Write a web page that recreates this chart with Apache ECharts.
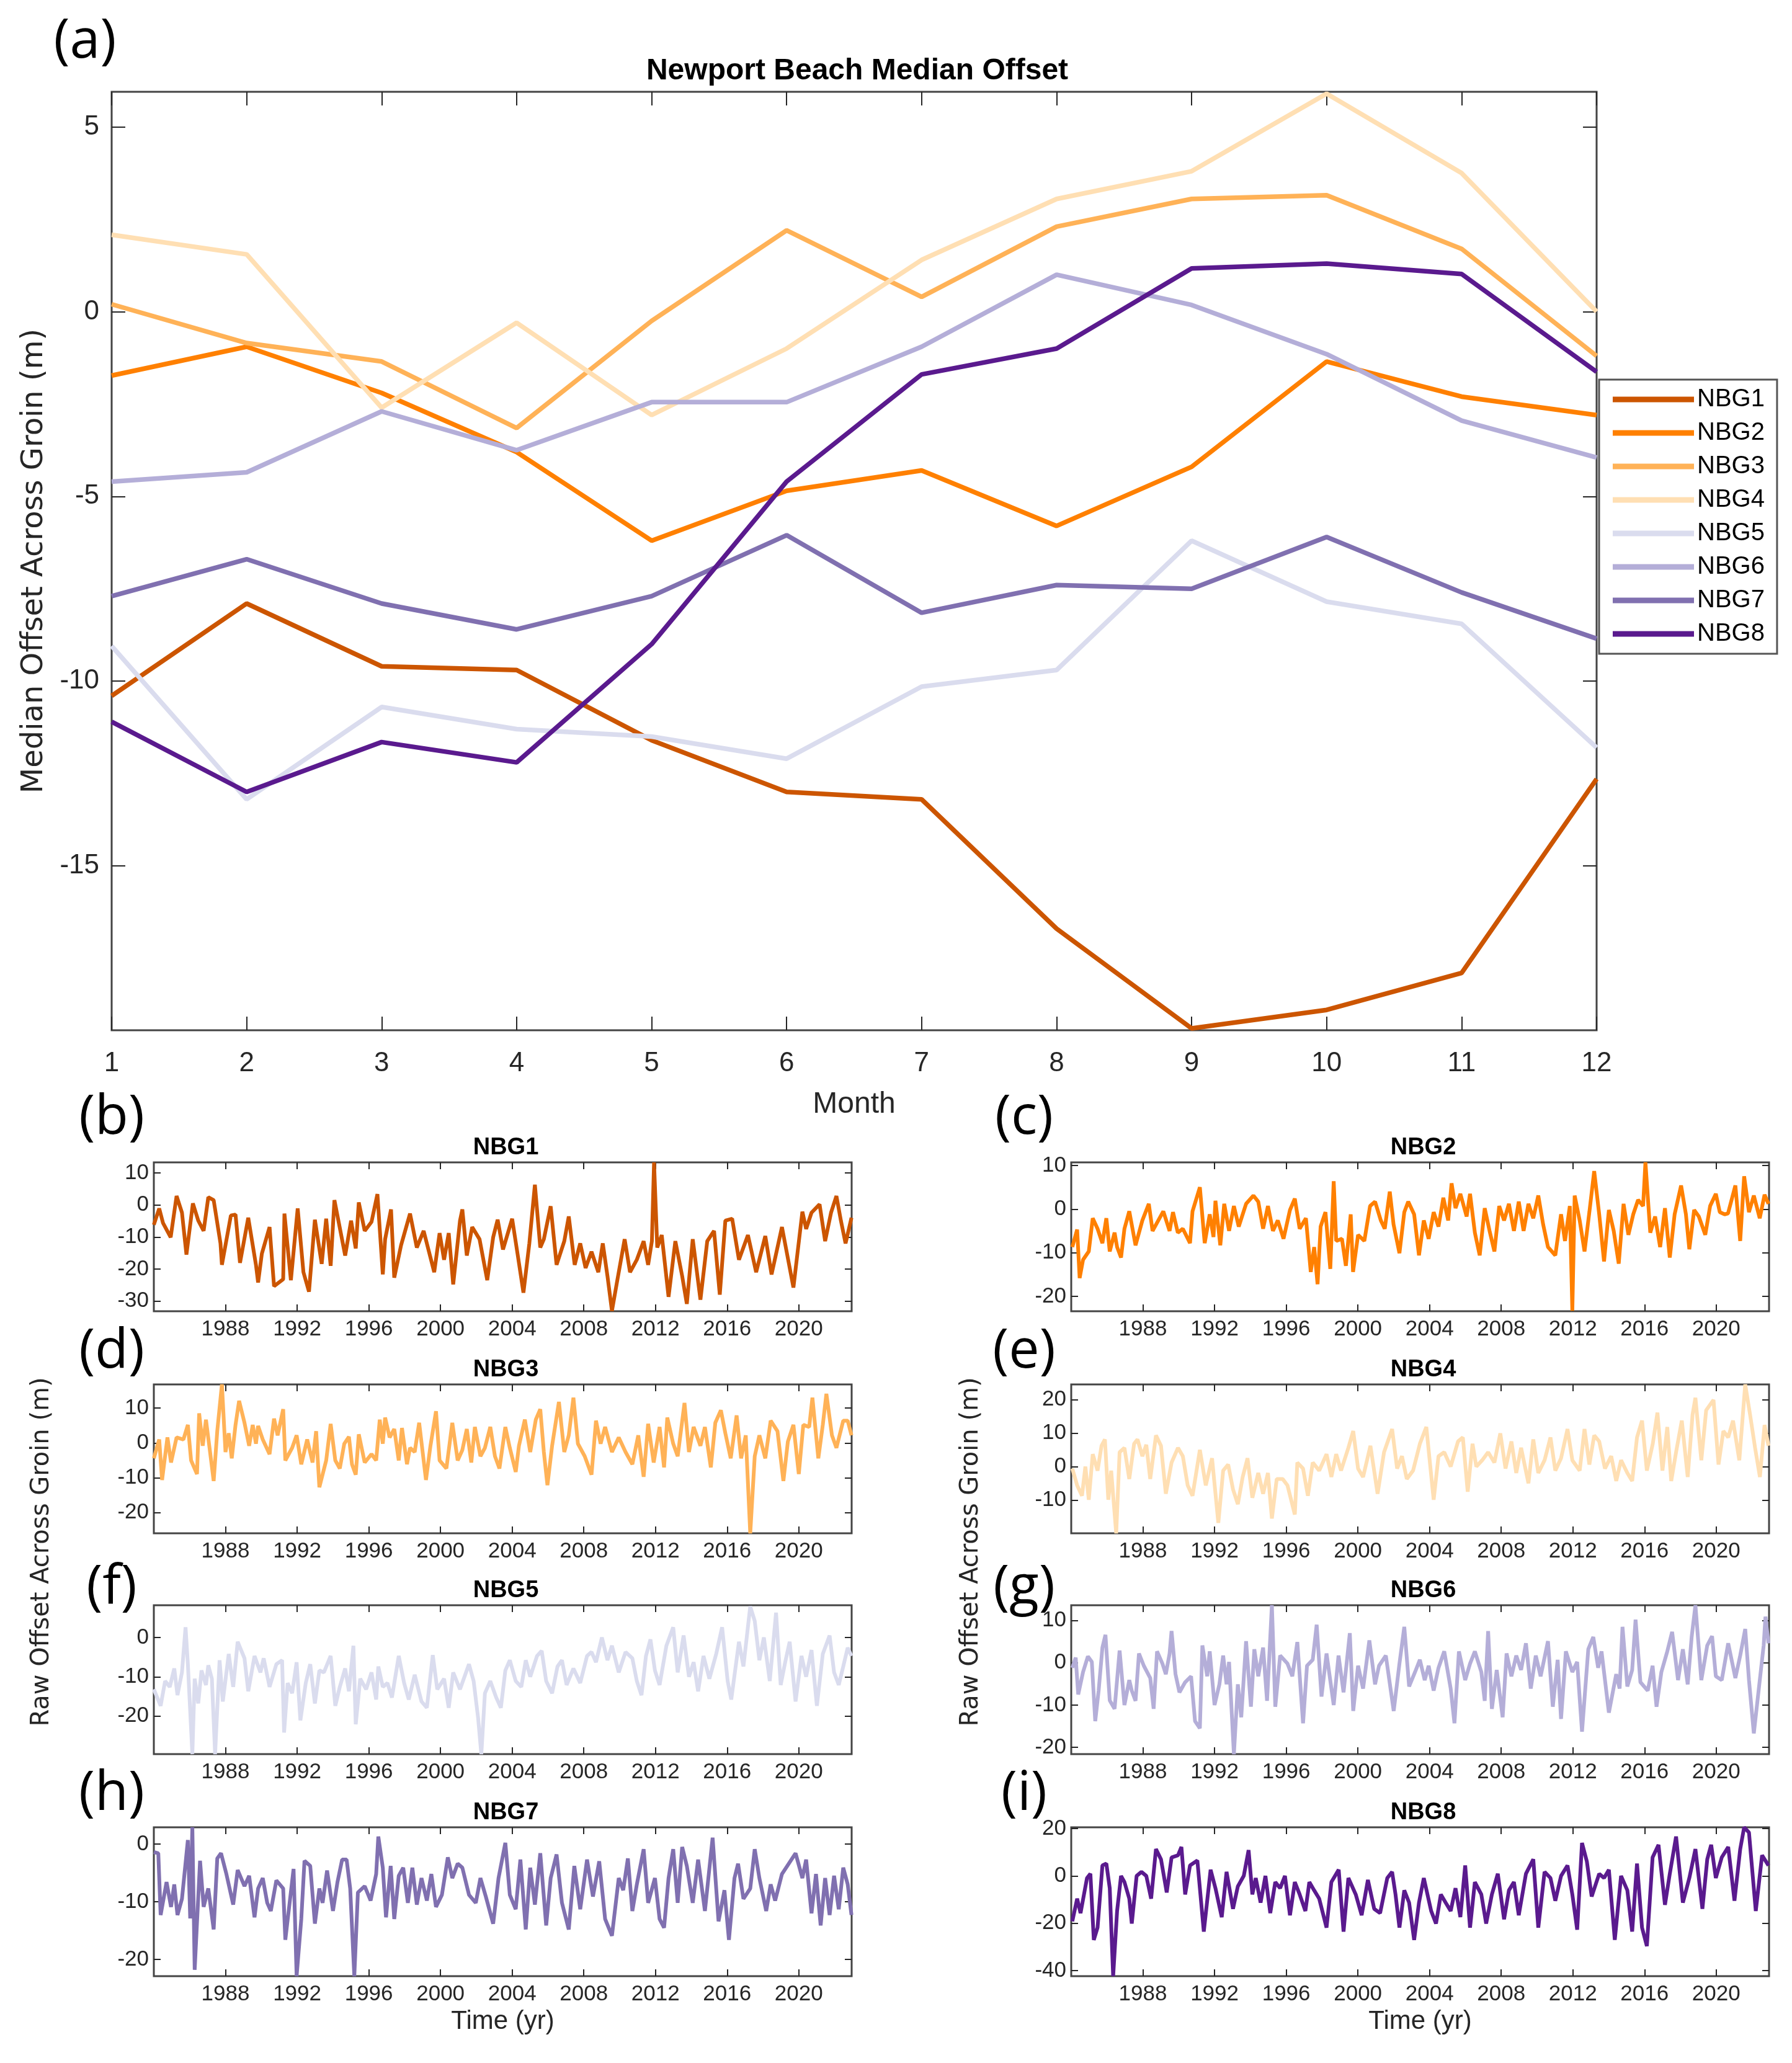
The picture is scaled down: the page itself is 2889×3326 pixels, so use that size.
<!DOCTYPE html>
<html>
<head>
<meta charset="utf-8">
<title>Newport Beach Median Offset</title>
<script src="https://cdn.jsdelivr.net/npm/echarts@6/dist/echarts.min.js"></script>
<style>
html, body { margin: 0; padding: 0; background: #fff; }
#chart { width: 2889px; height: 3326px; }
</style>
</head>
<body>
<div id="chart"></div>
<script>
// ---- data ----
var months = [1, 2, 3, 4, 5, 6, 7, 8, 9, 10, 11, 12];
var groinNames = ['NBG1', 'NBG2', 'NBG3', 'NBG4', 'NBG5', 'NBG6', 'NBG7', 'NBG8'];

// median offset across groin per month (m)
var medNBG1 = [-10.4, -7.9, -9.6, -9.7, -11.6, -13.0, -13.2, -16.7, -19.4, -18.9, -17.9, -12.65];
var medNBG2 = [-1.73, -0.95, -2.2, -3.8, -6.2, -4.85, -4.3, -5.8, -4.2, -1.35, -2.3, -2.8];
var medNBG3 = [0.2, -0.85, -1.35, -3.15, -0.25, 2.2, 0.4, 2.3, 3.05, 3.15, 1.7, -1.2];
var medNBG4 = [2.08, 1.55, -2.6, -0.3, -2.8, -1.0, 1.4, 3.05, 3.8, 5.9, 3.75, 0.0];
var medNBG5 = [-9.05, -13.2, -10.7, -11.3, -11.5, -12.1, -10.15, -9.7, -6.2, -7.85, -8.45, -11.8];
var medNBG6 = [-4.6, -4.35, -2.7, -3.75, -2.45, -2.45, -0.95, 1.0, 0.18, -1.15, -2.95, -3.95];
var medNBG7 = [-7.7, -6.7, -7.9, -8.6, -7.7, -6.05, -8.15, -7.4, -7.5, -6.1, -7.6, -8.85];
var medNBG8 = [-11.1, -13.0, -11.65, -12.2, -9.0, -4.6, -1.7, -1.0, 1.17, 1.3, 1.02, -1.63];

// raw offset time series [decimal year, offset (m)]
var rawNBG1 = [[1984.00,-6.2],[1984.30,-1.1],[1984.51,-5.6],[1984.94,-10.1],[1985.27,2.8],[1985.57,-2.4],[1985.82,-15.5],[1986.18,0.5],[1986.48,-4.9],[1986.78,-8.1],[1987.04,2.4],[1987.34,1.5],[1987.72,-12.0],[1987.80,-18.7],[1988.30,-3.3],[1988.56,-3.0],[1988.81,-18.1],[1989.27,-4.0],[1989.70,-18.7],[1989.82,-24.2],[1990.03,-15.2],[1990.46,-6.9],[1990.71,-25.4],[1991.22,-23.2],[1991.29,-2.7],[1991.65,-23.5],[1992.03,-1.1],[1992.35,-21.0],[1992.66,-27.1],[1992.99,-4.6],[1993.37,-18.4],[1993.62,-4.3],[1993.87,-19.0],[1994.08,1.5],[1994.68,-15.8],[1995.01,-4.9],[1995.27,-13.6],[1995.44,0.8],[1995.77,-8.1],[1996.15,-5.3],[1996.48,3.4],[1996.78,-21.7],[1996.91,-10.7],[1997.24,-1.4],[1997.42,-22.7],[1997.80,-12.6],[1998.30,-2.7],[1998.68,-13.3],[1999.06,-8.1],[1999.65,-21.0],[1999.95,-8.8],[2000.20,-17.1],[2000.46,-8.8],[2000.71,-24.8],[2001.09,-4.9],[2001.22,-1.4],[2001.47,-15.8],[2001.77,-6.9],[2002.18,-10.7],[2002.61,-23.5],[2002.94,-10.1],[2003.19,-4.6],[2003.49,-13.9],[2004.00,-4.3],[2004.30,-15.2],[2004.63,-27.4],[2004.96,-12.0],[2005.27,6.3],[2005.57,-13.3],[2005.77,-10.7],[2006.15,-0.4],[2006.48,-18.7],[2006.91,-11.3],[2007.16,-3.6],[2007.49,-18.7],[2007.80,-12.0],[2008.10,-19.7],[2008.43,-14.6],[2008.81,-21.0],[2009.06,-12.0],[2009.32,-22.2],[2009.57,-33.1],[2009.87,-23.5],[2010.28,-10.7],[2010.58,-21.0],[2010.96,-17.1],[2011.34,-11.3],[2011.59,-18.7],[2011.80,-11.3],[2011.92,13.3],[2012.10,-13.3],[2012.35,-9.4],[2012.73,-28.7],[2013.11,-11.3],[2013.49,-22.2],[2013.75,-30.9],[2014.08,-10.7],[2014.51,-29.6],[2014.89,-11.3],[2015.27,-8.1],[2015.59,-28.0],[2015.90,-4.9],[2016.28,-4.3],[2016.66,-17.1],[2017.16,-9.4],[2017.62,-21.0],[2018.13,-9.7],[2018.48,-21.7],[2019.06,-6.9],[2019.70,-25.8],[2020.20,-2.1],[2020.41,-7.5],[2020.71,-2.4],[2021.16,0.2],[2021.47,-11.3],[2021.80,-2.4],[2022.10,2.8],[2022.35,-4.9],[2022.61,-12.0],[2022.94,-4.0]];
var rawNBG2 = [[1984.06,-8.7],[1984.33,-4.7],[1984.47,-15.8],[1984.66,-11.6],[1984.98,-9.7],[1985.20,-2.1],[1985.47,-4.5],[1985.74,-7.8],[1985.96,-2.1],[1986.15,-9.7],[1986.42,-5.4],[1986.56,-8.7],[1986.78,-11.1],[1986.97,-4.5],[1987.24,-0.5],[1987.59,-8.3],[1987.97,-2.6],[1988.33,1.2],[1988.54,-5.0],[1989.14,-0.5],[1989.49,-5.0],[1989.68,-0.7],[1989.95,-5.4],[1990.23,-4.5],[1990.63,-7.8],[1990.77,-0.5],[1991.18,5.0],[1991.45,-7.8],[1991.73,-1.2],[1991.94,-6.4],[1992.05,1.9],[1992.32,-8.3],[1992.54,1.2],[1992.81,-5.0],[1993.08,0.7],[1993.35,-4.0],[1993.76,1.2],[1994.17,3.1],[1994.44,1.7],[1994.71,-4.5],[1994.98,0.7],[1995.26,-5.0],[1995.53,-2.6],[1995.85,-6.8],[1996.21,-0.2],[1996.48,2.4],[1996.75,-4.5],[1997.10,-2.1],[1997.37,-14.4],[1997.56,-8.7],[1997.75,-17.2],[1997.92,-4.0],[1998.19,-0.7],[1998.46,-13.7],[1998.65,6.4],[1998.79,-7.3],[1999.11,-6.8],[1999.33,-13.0],[1999.60,-1.2],[1999.73,-14.4],[2000.01,-5.9],[2000.36,-7.3],[2000.68,0.7],[2000.96,1.7],[2001.28,-2.6],[2001.50,-4.5],[2001.78,4.0],[2001.99,-3.5],[2002.32,-10.1],[2002.59,-0.7],[2002.81,1.7],[2003.14,-1.2],[2003.41,-10.6],[2003.68,-2.6],[2003.95,-6.8],[2004.23,-0.7],[2004.50,-4.0],[2004.77,2.6],[2005.04,-2.6],[2005.23,5.9],[2005.45,0.2],[2005.72,3.5],[2006.07,-1.7],[2006.26,3.5],[2006.53,-5.4],[2006.80,-10.6],[2007.08,0.2],[2007.35,-5.0],[2007.62,-9.7],[2007.89,0.7],[2008.16,-2.6],[2008.43,1.2],[2008.71,-5.0],[2008.98,1.7],[2009.25,-5.0],[2009.52,1.2],[2009.79,-2.1],[2010.07,3.1],[2010.34,-3.5],[2010.61,-8.7],[2011.02,-10.6],[2011.34,-1.2],[2011.56,-7.3],[2011.83,0.7],[2011.97,-23.3],[2012.10,3.1],[2012.38,-2.6],[2012.65,-9.7],[2012.92,-0.7],[2013.19,8.7],[2013.47,-1.2],[2013.74,-12.0],[2014.01,-0.2],[2014.28,-5.0],[2014.56,-12.5],[2014.83,1.2],[2015.10,-5.9],[2015.37,-1.2],[2015.64,2.1],[2015.92,0.7],[2016.05,10.7],[2016.32,-5.4],[2016.59,-1.7],[2016.87,-8.7],[2017.14,0.2],[2017.41,-11.1],[2017.68,-1.2],[2018.04,5.4],[2018.31,-1.2],[2018.50,-9.2],[2018.77,-0.2],[2019.03,-1.7],[2019.39,-5.9],[2019.66,0.7],[2019.98,3.5],[2020.20,-0.7],[2020.47,-1.2],[2020.66,-1.0],[2021.07,5.4],[2021.34,-7.3],[2021.56,7.5],[2021.83,-0.7],[2022.10,3.1],[2022.43,-2.1],[2022.70,3.3],[2022.92,1.2]];
var rawNBG3 = [[1984.00,-4.4],[1984.30,1.0],[1984.46,-10.6],[1984.76,1.6],[1984.96,-5.6],[1985.27,1.6],[1985.65,1.0],[1985.90,5.2],[1986.08,-5.0],[1986.41,-8.9],[1986.53,8.5],[1986.73,-0.8],[1986.91,6.7],[1987.11,-1.4],[1987.34,-10.9],[1987.54,3.4],[1987.80,16.8],[1988.00,-2.6],[1988.18,2.8],[1988.35,-4.4],[1988.56,5.2],[1988.76,12.1],[1989.06,5.8],[1989.32,-0.8],[1989.52,5.2],[1989.70,-0.2],[1989.82,4.9],[1990.08,1.0],[1990.46,-3.2],[1990.71,7.0],[1990.91,2.2],[1991.22,9.7],[1991.34,-5.0],[1991.72,-1.4],[1991.97,2.2],[1992.23,-6.1],[1992.56,1.0],[1992.86,-5.6],[1993.06,3.4],[1993.24,-12.7],[1993.62,-5.0],[1993.87,5.5],[1994.13,-5.0],[1994.38,-7.3],[1994.63,-0.2],[1994.89,1.8],[1995.06,-6.1],[1995.27,-9.1],[1995.44,2.5],[1995.77,-5.6],[1996.15,-3.2],[1996.41,-5.0],[1996.61,6.7],[1996.78,-0.2],[1996.91,7.3],[1997.16,1.6],[1997.42,4.0],[1997.67,-5.0],[1997.85,4.3],[1998.13,-6.1],[1998.30,-1.4],[1998.56,-2.6],[1998.81,5.8],[1999.19,-10.6],[1999.44,-0.8],[1999.75,9.1],[1999.95,-5.0],[2000.33,-7.3],[2000.66,5.8],[2000.96,-5.0],[2001.22,-2.0],[2001.47,4.0],[2001.72,-5.6],[2001.92,4.6],[2002.23,-3.8],[2002.48,-1.4],[2002.78,4.6],[2003.04,-3.8],[2003.29,-7.3],[2003.62,4.6],[2003.87,-1.4],[2004.20,-8.3],[2004.38,-0.8],[2004.71,6.7],[2005.01,-2.6],[2005.32,6.7],[2005.57,9.7],[2005.77,-2.6],[2005.97,-12.1],[2006.23,-0.8],[2006.61,11.8],[2006.91,-2.6],[2007.16,2.2],[2007.42,13.0],[2007.67,-0.2],[2008.05,-3.8],[2008.43,-9.1],[2008.68,6.4],[2008.94,-0.2],[2009.19,4.6],[2009.57,-2.6],[2009.95,1.6],[2010.33,-2.6],[2010.71,-6.1],[2011.04,2.2],[2011.34,-9.7],[2011.59,5.5],[2011.90,-5.6],[2012.23,4.6],[2012.48,-7.0],[2012.66,7.3],[2012.99,-0.2],[2013.24,-3.8],[2013.62,11.5],[2013.87,-2.6],[2014.13,4.6],[2014.51,-0.8],[2014.76,4.6],[2015.09,-7.0],[2015.34,5.8],[2015.65,9.4],[2015.90,2.8],[2016.20,-4.4],[2016.53,7.9],[2016.78,-4.4],[2017.04,2.2],[2017.29,-25.9],[2017.54,-3.8],[2017.80,2.2],[2018.13,-4.4],[2018.43,6.4],[2018.81,3.4],[2019.14,-10.9],[2019.39,0.4],[2019.70,5.2],[2020.00,-8.9],[2020.25,5.2],[2020.58,4.6],[2020.76,13.0],[2021.09,-4.4],[2021.34,5.2],[2021.54,14.1],[2021.85,2.2],[2022.10,-1.4],[2022.48,6.4],[2022.73,6.4],[2022.94,2.2]];
var rawNBG4 = [[1984.06,-0.6],[1984.33,-5.6],[1984.60,-8.7],[1984.79,0.0],[1984.98,-9.9],[1985.20,3.7],[1985.47,-1.2],[1985.69,6.2],[1985.88,8.1],[1986.07,-9.9],[1986.23,-1.2],[1986.51,-19.9],[1986.70,4.3],[1986.97,5.6],[1987.24,-3.7],[1987.51,6.8],[1987.70,8.1],[1987.97,3.1],[1988.19,6.5],[1988.41,-3.7],[1988.73,9.3],[1989.01,6.2],[1989.28,-8.1],[1989.60,1.2],[1989.96,5.6],[1990.23,3.1],[1990.50,-5.6],[1990.77,-8.7],[1991.18,5.0],[1991.51,-5.6],[1991.86,2.5],[1992.21,-16.8],[1992.48,-1.2],[1992.76,0.6],[1993.03,-6.8],[1993.30,-11.2],[1993.57,-3.1],[1993.84,2.5],[1994.11,-9.3],[1994.44,-1.9],[1994.71,-8.1],[1994.98,-1.9],[1995.20,-15.5],[1995.47,-3.7],[1995.80,-3.7],[1996.07,-5.6],[1996.48,-14.3],[1996.62,1.2],[1996.94,-0.6],[1997.21,-8.7],[1997.48,1.2],[1997.84,-1.2],[1998.25,3.7],[1998.52,-3.1],[1998.79,3.7],[1999.06,-1.2],[1999.47,5.6],[1999.74,10.6],[2000.01,-0.6],[2000.29,-3.1],[2000.70,6.2],[2001.10,-8.1],[2001.46,4.3],[2001.91,11.2],[2002.19,-0.6],[2002.46,3.1],[2002.73,-3.7],[2003.08,-1.2],[2003.46,6.8],[2003.82,11.8],[2004.23,-9.9],[2004.50,3.1],[2004.82,4.3],[2005.18,0.0],[2005.59,7.5],[2005.86,8.7],[2006.13,-7.5],[2006.40,6.8],[2006.61,0.0],[2006.94,1.9],[2007.27,4.3],[2007.62,1.2],[2007.95,9.9],[2008.24,-0.6],[2008.57,7.5],[2008.84,-1.9],[2009.11,5.6],[2009.52,-5.0],[2009.79,8.1],[2010.07,-1.9],[2010.42,1.9],[2010.75,8.7],[2011.02,-1.2],[2011.34,2.5],[2011.70,11.2],[2011.97,1.9],[2012.38,-1.2],[2012.65,11.2],[2012.92,0.6],[2013.19,9.3],[2013.47,7.5],[2013.79,-0.6],[2014.14,3.1],[2014.42,-4.3],[2014.69,1.9],[2015.04,-1.9],[2015.31,-4.3],[2015.58,8.7],[2015.86,13.7],[2016.13,-1.2],[2016.46,6.8],[2016.72,16.1],[2017.00,-1.2],[2017.27,11.8],[2017.49,-4.3],[2017.76,4.3],[2018.08,13.7],[2018.41,-3.1],[2018.68,15.5],[2018.84,20.5],[2019.17,1.9],[2019.44,16.8],[2019.85,19.9],[2020.13,0.6],[2020.40,10.6],[2020.67,8.7],[2020.94,13.7],[2021.29,1.9],[2021.62,24.5],[2021.89,15.5],[2022.17,5.6],[2022.44,-3.1],[2022.70,12.4],[2022.92,6.2]];
var rawNBG5 = [[1984.00,-13.2],[1984.38,-17.4],[1984.63,-11.1],[1984.89,-12.6],[1985.14,-7.9],[1985.32,-14.7],[1985.57,-8.9],[1985.77,2.6],[1985.90,-6.8],[1986.15,-29.7],[1986.28,-10.5],[1986.48,-16.8],[1986.66,-8.4],[1986.91,-12.1],[1987.04,-7.1],[1987.24,-10.5],[1987.42,-29.7],[1987.67,-5.8],[1987.85,-16.3],[1988.18,-4.2],[1988.43,-12.6],[1988.68,-1.1],[1989.06,-5.3],[1989.27,-13.7],[1989.62,-4.7],[1989.95,-8.9],[1990.13,-5.3],[1990.46,-12.6],[1990.84,-6.8],[1991.16,-5.8],[1991.27,-24.2],[1991.47,-11.6],[1991.72,-14.2],[1991.97,-6.3],[1992.18,-21.1],[1992.48,-11.6],[1992.73,-6.8],[1992.99,-16.8],[1993.24,-8.4],[1993.49,-8.9],[1993.87,-4.7],[1994.13,-17.4],[1994.38,-12.6],[1994.68,-7.9],[1994.89,-13.7],[1995.14,-2.1],[1995.27,-22.1],[1995.52,-10.5],[1995.85,-13.2],[1996.15,-8.9],[1996.41,-15.8],[1996.53,-7.4],[1996.78,-12.6],[1997.04,-11.6],[1997.29,-15.3],[1997.67,-4.7],[1997.97,-11.6],[1998.23,-15.8],[1998.56,-9.5],[1998.94,-16.3],[1999.24,-17.9],[1999.57,-4.5],[1999.82,-13.2],[2000.20,-10.5],[2000.46,-17.9],[2000.71,-8.9],[2001.09,-13.2],[2001.59,-6.8],[2001.85,-11.1],[2002.10,-20.5],[2002.28,-29.7],[2002.48,-14.2],[2002.78,-11.1],[2003.11,-15.3],[2003.37,-17.9],[2003.62,-8.4],[2003.87,-5.8],[2004.20,-11.1],[2004.51,-12.6],[2004.76,-5.8],[2005.01,-10.0],[2005.39,-4.7],[2005.65,-3.4],[2005.90,-11.1],[2006.23,-14.2],[2006.53,-7.4],[2006.78,-5.8],[2007.04,-12.1],[2007.42,-7.9],[2007.80,-11.6],[2008.18,-4.7],[2008.43,-3.7],[2008.68,-6.3],[2009.01,0.0],[2009.32,-5.8],[2009.57,-2.1],[2009.95,-8.9],[2010.33,-3.7],[2010.71,-5.3],[2010.96,-11.1],[2011.22,-14.7],[2011.47,-4.7],[2011.72,-0.5],[2011.97,-8.4],[2012.23,-12.1],[2012.61,-2.1],[2012.99,2.6],[2013.24,-8.9],[2013.57,0.5],[2013.87,-10.0],[2014.13,-6.3],[2014.38,-13.7],[2014.68,-4.7],[2015.01,-10.5],[2015.39,-4.2],[2015.72,2.6],[2016.03,-11.1],[2016.23,-15.8],[2016.66,-1.1],[2016.91,-7.4],[2017.29,7.9],[2017.54,4.2],[2017.80,-5.8],[2018.05,0.0],[2018.38,-11.1],[2018.73,6.3],[2018.99,-12.1],[2019.24,-6.3],[2019.49,-1.1],[2019.82,-16.3],[2020.15,-4.7],[2020.41,-10.0],[2020.71,-3.2],[2021.01,-17.4],[2021.34,-4.2],[2021.72,0.5],[2021.97,-8.9],[2022.23,-12.1],[2022.48,-7.4],[2022.73,-2.6],[2022.94,-4.7]];
var rawNBG6 = [[1984.06,-1.2],[1984.25,1.2],[1984.39,-7.5],[1984.66,-2.2],[1984.93,1.5],[1985.15,0.2],[1985.34,-13.8],[1985.53,-6.6],[1985.74,3.6],[1985.91,6.6],[1986.15,-8.9],[1986.42,-10.9],[1986.70,2.9],[1986.97,-10.0],[1987.24,-4.1],[1987.38,-6.6],[1987.59,-9.0],[1987.78,2.2],[1988.05,-0.7],[1988.41,-3.6],[1988.60,-10.9],[1988.79,2.7],[1989.09,-0.2],[1989.28,-2.7],[1989.49,2.2],[1989.60,7.5],[1989.82,-2.7],[1990.04,-7.0],[1990.36,-4.6],[1990.69,-3.2],[1990.91,-13.8],[1991.18,-15.5],[1991.32,4.1],[1991.59,-3.2],[1991.73,2.7],[1992.00,-10.0],[1992.27,-5.1],[1992.48,1.7],[1992.67,-5.1],[1992.81,0.2],[1993.08,-21.6],[1993.30,-5.1],[1993.49,-12.9],[1993.76,5.1],[1994.03,-10.4],[1994.22,3.2],[1994.44,-3.2],[1994.71,3.6],[1994.93,-9.0],[1995.20,13.6],[1995.39,-10.4],[1995.66,1.7],[1996.07,-0.2],[1996.34,-3.2],[1996.62,4.9],[1996.94,-14.3],[1997.16,-0.7],[1997.48,0.7],[1997.70,9.0],[1997.97,-8.0],[1998.25,2.2],[1998.65,-10.0],[1998.92,1.7],[1999.20,-7.0],[1999.55,7.0],[1999.74,-11.4],[2000.01,-0.7],[2000.29,-6.1],[2000.64,5.3],[2000.96,-5.1],[2001.18,-0.7],[2001.56,1.7],[2002.00,-11.4],[2002.32,-0.2],[2002.59,8.5],[2002.86,-5.6],[2003.19,-2.2],[2003.46,0.7],[2003.73,-4.1],[2003.95,-0.7],[2004.23,-6.6],[2004.50,-1.2],[2004.82,2.7],[2005.18,-6.1],[2005.39,-14.3],[2005.64,2.7],[2005.99,-4.1],[2006.26,-0.2],[2006.53,2.7],[2006.89,-2.2],[2007.08,-9.0],[2007.27,7.5],[2007.48,-10.9],[2007.75,-1.7],[2008.08,-12.9],[2008.30,2.2],[2008.57,-3.2],[2008.84,1.7],[2009.11,-1.7],[2009.38,4.6],[2009.65,-6.1],[2009.93,1.7],[2010.20,-3.2],[2010.61,5.1],[2010.88,-10.4],[2011.15,0.7],[2011.34,-13.3],[2011.61,2.7],[2011.97,-2.2],[2012.24,0.2],[2012.51,-16.3],[2012.86,3.2],[2013.14,6.1],[2013.41,-1.2],[2013.60,2.7],[2014.01,-11.8],[2014.42,-2.7],[2014.61,-6.1],[2014.77,8.5],[2015.04,-5.6],[2015.31,-1.7],[2015.50,10.2],[2015.77,-4.6],[2016.18,-6.6],[2016.45,-0.7],[2016.67,-10.4],[2016.94,-2.2],[2017.27,2.7],[2017.54,7.3],[2017.87,-4.1],[2018.14,3.2],[2018.41,-5.1],[2018.63,6.1],[2018.84,13.6],[2019.17,-4.1],[2019.50,4.1],[2019.77,6.3],[2019.98,-3.2],[2020.31,-4.1],[2020.67,4.6],[2021.07,-3.6],[2021.34,1.7],[2021.62,8.0],[2021.83,-4.1],[2022.10,-16.7],[2022.38,-6.1],[2022.65,4.1],[2022.75,10.9],[2022.92,4.6]];
var rawNBG7 = [[1984.00,-1.4],[1984.25,-1.6],[1984.38,-12.3],[1984.71,-6.6],[1984.96,-10.9],[1985.14,-7.0],[1985.32,-12.3],[1985.57,-9.5],[1985.90,0.7],[1986.03,-12.9],[1986.15,2.9],[1986.28,-21.8],[1986.58,-2.9],[1986.78,-10.9],[1987.04,-7.7],[1987.34,-14.8],[1987.54,-2.5],[1987.75,-1.6],[1988.05,-5.2],[1988.43,-10.5],[1988.68,-4.5],[1989.06,-7.3],[1989.32,-5.5],[1989.62,-12.7],[1989.82,-7.7],[1990.08,-5.9],[1990.33,-10.2],[1990.53,-11.6],[1990.84,-6.3],[1991.22,-7.7],[1991.34,-16.6],[1991.80,-4.3],[1991.97,-22.9],[1992.23,-13.0],[1992.41,-2.9],[1992.73,-3.8],[1992.99,-13.8],[1993.24,-7.7],[1993.42,-10.2],[1993.67,-4.6],[1994.00,-11.6],[1994.25,-6.6],[1994.51,-2.7],[1994.76,-2.7],[1994.96,-7.7],[1995.19,-22.9],[1995.39,-8.4],[1995.77,-7.3],[1996.10,-9.8],[1996.41,-5.2],[1996.53,1.3],[1996.78,-4.1],[1996.96,-12.7],[1997.22,-3.8],[1997.42,-13.0],[1997.67,-5.5],[1997.92,-4.1],[1998.18,-10.2],[1998.43,-4.1],[1998.68,-10.5],[1998.94,-5.9],[1999.24,-9.8],[1999.49,-5.2],[1999.75,-10.9],[2000.08,-8.8],[2000.41,-2.3],[2000.66,-5.9],[2000.96,-3.4],[2001.22,-4.1],[2001.59,-8.8],[2001.97,-10.2],[2002.23,-5.9],[2002.53,-9.1],[2002.94,-13.8],[2003.24,-5.9],[2003.62,0.2],[2003.87,-8.8],[2004.20,-11.3],[2004.46,-2.7],[2004.76,-14.8],[2005.01,-4.1],[2005.27,-10.5],[2005.57,-1.6],[2005.90,-14.1],[2006.15,-5.9],[2006.48,-1.8],[2006.78,-10.2],[2007.16,-14.8],[2007.47,-3.8],[2007.80,-11.3],[2008.18,-2.7],[2008.51,-9.1],[2008.86,-3.0],[2009.19,-13.0],[2009.57,-15.9],[2009.95,-5.9],[2010.20,-8.0],[2010.46,-2.5],[2010.71,-11.6],[2010.96,-7.0],[2011.34,-0.9],[2011.59,-10.2],[2011.97,-5.9],[2012.23,-13.0],[2012.48,-14.5],[2012.73,-5.9],[2012.99,-0.9],[2013.24,-10.2],[2013.49,-0.5],[2013.75,-3.8],[2014.08,-10.2],[2014.38,-2.7],[2014.76,-11.6],[2015.19,1.1],[2015.52,-13.4],[2015.85,-8.0],[2016.10,-16.6],[2016.41,-5.9],[2016.61,-3.4],[2016.91,-9.5],[2017.29,-7.7],[2017.54,-0.9],[2017.80,-5.9],[2018.18,-11.6],[2018.43,-7.0],[2018.68,-9.8],[2019.06,-5.2],[2019.44,-3.4],[2019.82,-1.6],[2020.20,-5.9],[2020.41,-2.7],[2020.71,-12.0],[2020.96,-5.2],[2021.22,-14.1],[2021.47,-5.9],[2021.72,-12.3],[2021.97,-5.5],[2022.23,-11.3],[2022.48,-4.1],[2022.73,-7.0],[2022.94,-12.3]];
var rawNBG8 = [[1984.06,-19.2],[1984.33,-9.6],[1984.52,-15.7],[1984.88,-0.9],[1985.07,0.9],[1985.26,-27.0],[1985.47,-21.8],[1985.74,4.4],[1985.96,5.2],[1986.15,-5.2],[1986.34,-42.3],[1986.56,-14.8],[1986.78,0.0],[1986.97,-2.6],[1987.24,-9.6],[1987.38,-20.1],[1987.65,0.0],[1987.92,1.7],[1988.19,0.0],[1988.46,-9.6],[1988.73,11.3],[1989.01,7.0],[1989.33,-7.0],[1989.60,7.8],[1989.96,8.7],[1990.15,12.2],[1990.36,-7.8],[1990.63,4.4],[1991.04,6.5],[1991.40,-23.5],[1991.78,2.6],[1992.05,-5.2],[1992.40,-17.4],[1992.67,1.7],[1993.03,-13.9],[1993.30,-4.4],[1993.63,0.0],[1993.90,10.9],[1994.11,-7.8],[1994.30,-0.9],[1994.57,-11.3],[1994.84,0.0],[1995.11,-15.7],[1995.39,-2.6],[1995.66,-5.2],[1995.93,0.0],[1996.21,-16.6],[1996.48,-2.6],[1996.75,-7.8],[1997.07,-14.8],[1997.29,-2.6],[1997.56,-6.1],[1997.84,-9.6],[1998.25,-21.8],[1998.52,-2.6],[1998.93,2.6],[1999.20,-23.5],[1999.47,-0.9],[1999.88,-7.8],[2000.21,-16.6],[2000.56,-1.7],[2000.91,-13.9],[2001.24,-15.7],[2001.64,-0.9],[2001.91,1.7],[2002.10,-7.8],[2002.32,-21.8],[2002.59,-6.1],[2002.86,-11.3],[2003.14,-27.0],[2003.41,-11.3],[2003.68,-0.9],[2004.09,-14.8],[2004.36,-20.1],[2004.63,-7.8],[2004.90,-11.3],[2005.18,-14.8],[2005.45,-5.2],[2005.72,-17.4],[2005.99,4.4],[2006.26,-21.8],[2006.53,-2.6],[2006.89,-7.8],[2007.16,-20.1],[2007.48,-7.8],[2007.81,0.9],[2008.16,-18.3],[2008.43,-6.1],[2008.71,-2.6],[2008.98,-16.6],[2009.38,0.9],[2009.79,7.0],[2010.07,-21.8],[2010.42,1.7],[2010.75,-0.9],[2011.02,-10.5],[2011.34,0.0],[2011.70,4.4],[2011.97,-7.8],[2012.24,-22.7],[2012.51,13.9],[2012.78,6.1],[2013.05,-8.7],[2013.47,0.9],[2013.74,-0.9],[2014.01,2.6],[2014.34,-27.0],[2014.69,0.0],[2015.04,-6.1],[2015.31,-23.5],[2015.58,5.2],[2015.86,-21.8],[2016.13,-29.6],[2016.45,7.8],[2016.78,13.1],[2017.14,-12.2],[2017.41,0.9],[2017.76,16.6],[2018.14,-11.3],[2018.50,-0.9],[2018.84,11.3],[2019.23,-13.9],[2019.50,7.0],[2019.72,13.1],[2019.98,-0.9],[2020.31,7.8],[2020.67,12.2],[2021.02,-10.5],[2021.34,11.3],[2021.56,20.5],[2021.83,18.3],[2022.21,-14.8],[2022.56,8.7],[2022.92,4.4]];

// axis tick labels
var medianTicks = [-15, -10, -5, 0, 5];
var yearTicks = [1988, 1992, 1996, 2000, 2004, 2008, 2012, 2016, 2020];
var rawTicks = {
  NBG1: [-30, -20, -10, 0, 10],
  NBG2: [-20, -10, 0, 10],
  NBG3: [-20, -10, 0, 10],
  NBG4: [-10, 0, 10, 20],
  NBG5: [-20, -10, 0],
  NBG6: [-20, -10, 0, 10],
  NBG7: [-20, -10, 0],
  NBG8: [-40, -20, 0, 20]
};

// ---- styling ----
var colors = ['#cc5500', '#ff8000', '#ffb257', '#ffdfb3', '#dadcee', '#b4aed8', '#8070b0', '#5a1a8e'];
var medians = [medNBG1, medNBG2, medNBG3, medNBG4, medNBG5, medNBG6, medNBG7, medNBG8];
var raws = [rawNBG1, rawNBG2, rawNBG3, rawNBG4, rawNBG5, rawNBG6, rawNBG7, rawNBG8];
// y limits of the small panels (tight to the data like the original)
var rawLimits = [[-33.2, 13.3], [-23.4, 10.7], [-25.9, 16.8], [-19.9, 24.5],
                 [-29.7, 8.2], [-21.6, 13.6], [-22.9, 2.9], [-42.3, 20.5]];

var FONT = 'Liberation Sans, Arial, sans-serif';
var WIDE = 'DejaVu Sans, sans-serif';
var INK = '#262626';
var FRAME = '#444';

var mainBox = { left: 180, top: 148, width: 2394, height: 1513 };
var colLeft = [248, 1727];
var rowTop = [1874, 2232, 2588, 2946];
var panelW = 1125, panelH = 240;

var grids = [];
var xAxes = [];
var yAxes = [];
var series = [];
var titles = [];

function plain(v) { return String(v); }

function tickStyle(len) {
  return { show: true, inside: true, length: len, lineStyle: { color: INK, width: 2 } };
}
function noLine() {
  return { show: false, onZero: false };
}

grids.push({ left: mainBox.left, top: mainBox.top, width: mainBox.width, height: mainBox.height,
  show: true, borderColor: FRAME, borderWidth: 3, backgroundColor: '#fff' });

// main chart axes: bottom / top / left / right
xAxes.push({ gridIndex: 0, type: 'value', min: 1, max: 12, interval: 1, position: 'bottom',
  axisLine: noLine(), splitLine: { show: false }, axisTick: tickStyle(22),
  axisLabel: { fontFamily: FONT, fontSize: 44, color: INK, margin: 32, formatter: plain },
  name: 'Month', nameLocation: 'middle', nameGap: 96,
  nameTextStyle: { fontFamily: FONT, fontSize: 48, color: INK } });
xAxes.push({ gridIndex: 0, type: 'value', min: 1, max: 12, interval: 1, position: 'top',
  axisLine: noLine(), splitLine: { show: false }, axisTick: tickStyle(22),
  axisLabel: { show: false } });
yAxes.push({ gridIndex: 0, type: 'value', min: -19.45, max: 5.95, position: 'left',
  axisLine: noLine(), splitLine: { show: false },
  axisTick: Object.assign(tickStyle(22), { customValues: medianTicks }),
  axisLabel: { fontFamily: FONT, fontSize: 44, color: INK, margin: 20, customValues: medianTicks, formatter: plain },
  name: 'Median Offset Across Groin (m)', nameLocation: 'middle', nameRotate: 90, nameGap: 100,
  nameTextStyle: { fontFamily: WIDE, fontSize: 48, color: INK } });
yAxes.push({ gridIndex: 0, type: 'value', min: -19.45, max: 5.95, position: 'right',
  axisLine: noLine(), splitLine: { show: false },
  axisTick: Object.assign(tickStyle(22), { customValues: medianTicks }),
  axisLabel: { show: false } });

titles.push({ text: 'Newport Beach Median Offset', left: mainBox.left + mainBox.width / 2, top: 86,
  textAlign: 'center', textStyle: { fontFamily: FONT, fontSize: 48, fontWeight: 'bold', color: '#000' } });

for (var i = 0; i < 8; i++) {
  series.push({
    name: groinNames[i], type: 'line', xAxisIndex: 0, yAxisIndex: 0,
    symbol: 'none', lineStyle: { width: 7.5, color: colors[i] }, itemStyle: { color: colors[i] },
    data: months.map(function (m, k) { return [m, this[k]]; }, medians[i])
  });
}

// small panels
for (var p = 0; p < 8; p++) {
  var row = Math.floor(p / 2), col = p % 2;
  var g = p + 1;
  var lim = rawLimits[p];
  var ticks = rawTicks[groinNames[p]];
  grids.push({ left: colLeft[col], top: rowTop[row], width: panelW, height: panelH,
    show: true, borderColor: FRAME, borderWidth: 3, backgroundColor: '#fff' });
  var bottom = {
    gridIndex: g, type: 'value', min: 1984, max: 2022.95, position: 'bottom',
    axisLine: noLine(), splitLine: { show: false },
    axisTick: Object.assign(tickStyle(11), { customValues: yearTicks }),
    axisLabel: { fontFamily: FONT, fontSize: 35, color: INK, margin: 12, customValues: yearTicks, formatter: plain }
  };
  if (row === 3) {
    bottom.name = 'Time (yr)';
    bottom.nameLocation = 'middle';
    bottom.nameGap = 52;
    bottom.nameTextStyle = { fontFamily: FONT, fontSize: 42, color: INK };
  }
  xAxes.push(bottom);
  xAxes.push({ gridIndex: g, type: 'value', min: 1984, max: 2022.95, position: 'top',
    axisLine: noLine(), splitLine: { show: false },
    axisTick: Object.assign(tickStyle(11), { customValues: yearTicks }), axisLabel: { show: false } });
  yAxes.push({ gridIndex: g, type: 'value', min: lim[0], max: lim[1], position: 'left',
    axisLine: noLine(), splitLine: { show: false },
    axisTick: Object.assign(tickStyle(11), { customValues: ticks }),
    axisLabel: { fontFamily: FONT, fontSize: 35, color: INK, margin: 8, customValues: ticks, formatter: plain } });
  yAxes.push({ gridIndex: g, type: 'value', min: lim[0], max: lim[1], position: 'right',
    axisLine: noLine(), splitLine: { show: false },
    axisTick: Object.assign(tickStyle(11), { customValues: ticks }), axisLabel: { show: false } });

  titles.push({ text: groinNames[p], left: colLeft[col] + panelW / 2, top: rowTop[row] - 47,
    textAlign: 'center', textStyle: { fontFamily: FONT, fontSize: 38, fontWeight: 'bold', color: '#000' } });

  series.push({
    name: groinNames[p], type: 'line', xAxisIndex: 2 * g, yAxisIndex: 2 * g,
    symbol: 'none', lineStyle: { width: 6, color: colors[p] }, itemStyle: { color: colors[p] },
    data: raws[p]
  });
}

// panel letters and shared axis labels
var letters = [
  ['(a)', 137, 68], ['(b)', 180, 1803], ['(c)', 1651, 1803], ['(d)', 180, 2180], ['(e)', 1651, 2180],
  ['(f)', 180, 2561], ['(g)', 1651, 2561], ['(h)', 180, 2893], ['(i)', 1651, 2893]
];
var graphics = letters.map(function (l) {
  return { type: 'text', x: l[1], y: l[2],
    style: { text: l[0], fill: '#000', font: '88px "Open Sans", sans-serif',
      textAlign: 'center', textVerticalAlign: 'middle', align: 'center', verticalAlign: 'middle' } };
});
[68, 1566].forEach(function (x) {
  graphics.push({ type: 'text', x: x, y: 2502, rotation: Math.PI / 2,
    style: { text: 'Raw Offset Across Groin (m)', fill: INK, font: '40px "DejaVu Sans", sans-serif',
      textAlign: 'center', textVerticalAlign: 'middle', align: 'center', verticalAlign: 'middle' } });
});

var option = {
  backgroundColor: '#fff',
  animation: false,
  color: colors,
  title: titles,
  legend: {
    data: groinNames, orient: 'vertical', left: 2578, top: 612,
    icon: 'rect', itemWidth: 131, itemHeight: 9, itemGap: 14, padding: [12, 20, 12, 22],
    borderColor: '#555', borderWidth: 3, backgroundColor: '#fff',
    textStyle: { fontFamily: FONT, fontSize: 40, color: '#000', lineHeight: 40 }
  },
  grid: grids,
  xAxis: xAxes,
  yAxis: yAxes,
  series: series,
  graphic: graphics
};

var chart = echarts.init(document.getElementById('chart'), null, { renderer: 'canvas' });
chart.setOption(option);
</script>
</body>
</html>
